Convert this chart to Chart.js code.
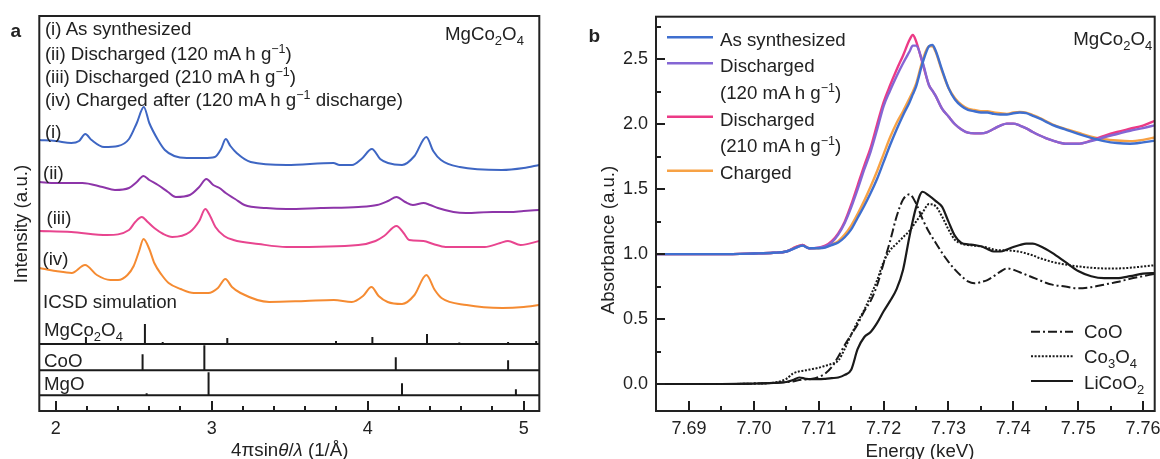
<!DOCTYPE html>
<html>
<head>
<meta charset="utf-8">
<title>MgCo2O4 XRD and Co K-edge XANES</title>
<script src="https://cdn.jsdelivr.net/npm/chart.js@4.4.1/dist/chart.umd.min.js"></script>
<style>
  html, body { margin: 0; padding: 0; background: #fff; }
  #fig { position: relative; width: 1160px; height: 459px; overflow: hidden; }
  #fig canvas { position: absolute; top: 0; }
  #ann { position: absolute; left: 0; top: 0; pointer-events: none; }
</style>
</head>
<body>
<div id="fig">
  <canvas id="xrd" width="560" height="459" style="left:0"></canvas>
  <canvas id="xanes" width="600" height="459" style="left:560px"></canvas>
  <svg id="ann" width="1160" height="459" font-family="Liberation Sans, Arial, sans-serif" font-size="18.7" fill="#222">
    <!-- panel a -->
    <text x="10.5" y="36.7" font-weight="bold" font-size="19">a</text>
    <text x="44.9" y="34.5">(i) As synthesized</text>
    <text x="44.9" y="59.5">(ii) Discharged (120 mA h g<tspan dy="-7" font-size="12.5">−1</tspan><tspan dy="7">)</tspan></text>
    <text x="44.9" y="82.9">(iii) Discharged (210 mA h g<tspan dy="-7" font-size="12.5">−1</tspan><tspan dy="7">)</tspan></text>
    <text x="44.9" y="106.2">(iv) Charged after (120 mA h g<tspan dy="-7" font-size="12.5">−1</tspan><tspan dy="7"> discharge)</tspan></text>
    <text x="445" y="39.6">MgCo<tspan dy="5" font-size="13">2</tspan><tspan dy="-5">O</tspan><tspan dy="5" font-size="13">4</tspan></text>
    <text x="44.9" y="137.9">(i)</text>
    <text x="43" y="178.5">(ii)</text>
    <text x="46.5" y="223.5">(iii)</text>
    <text x="42.5" y="265">(iv)</text>
    <text x="43" y="308">ICSD simulation</text>
    <text x="44" y="336">MgCo<tspan dy="5" font-size="13">2</tspan><tspan dy="-5">O</tspan><tspan dy="5" font-size="13">4</tspan></text>
    <text x="44" y="366.7">CoO</text>
    <text x="44" y="389.5">MgO</text>
    <text x="289.8" y="455.5" text-anchor="middle">4πsin<tspan font-style="italic">θ</tspan>/<tspan font-style="italic">λ</tspan> (1/Å)</text>
    <text transform="translate(26.9,224) rotate(-90)" text-anchor="middle">Intensity (a.u.)</text>

    <!-- panel b -->
    <text x="588.5" y="41.7" font-weight="bold" font-size="19">b</text>
    <text x="1073.3" y="45">MgCo<tspan dy="5" font-size="13">2</tspan><tspan dy="-5">O</tspan><tspan dy="5" font-size="13">4</tspan></text>
    <text x="720" y="45.7">As synthesized</text>
    <text x="720" y="72.3">Discharged</text>
    <text x="720" y="99">(120 mA h g<tspan dy="-7" font-size="12.5">−1</tspan><tspan dy="7">)</tspan></text>
    <text x="720" y="125.7">Discharged</text>
    <text x="720" y="152.4">(210 mA h g<tspan dy="-7" font-size="12.5">−1</tspan><tspan dy="7">)</tspan></text>
    <text x="720" y="179.1">Charged</text>
    <text x="1084" y="337.7">CoO</text>
    <text x="1084" y="363.3">Co<tspan dy="5" font-size="13">3</tspan><tspan dy="-5">O</tspan><tspan dy="5" font-size="13">4</tspan></text>
    <text x="1084" y="388.7">LiCoO<tspan dy="5" font-size="13">2</tspan></text>
    <text x="920" y="456.5" text-anchor="middle">Energy (keV)</text>
    <text transform="translate(614,240) rotate(-90)" text-anchor="middle">Absorbance (a.u.)</text>

    <g id="legendSamples"></g>
  </svg>
</div>

<script>
// ---------------- Panel a: X-ray diffraction patterns (offset for clarity) ----------------
const qMin = 1.895, qMax = 5.1;
const qTicks = [2, 3, 4, 5];

const qAsSynth = [1.895, 2.0, 2.10, 2.15, 2.19, 2.23, 2.31, 2.40, 2.47, 2.52, 2.565, 2.60, 2.656, 2.70, 2.76, 2.84, 2.95, 3.02, 3.06, 3.09, 3.12, 3.16, 3.25, 3.48, 3.78, 3.82, 3.90, 3.96, 4.027, 4.08, 4.13, 4.22, 4.30, 4.376, 4.42, 4.47, 4.59, 4.86, 5.0, 5.1];
const iAsSynth = [271, 270, 268, 270, 277, 271, 264, 265, 272, 288, 304, 288, 271, 261, 255, 253, 253, 254, 262, 272, 265, 258, 249, 246, 248, 246, 246, 252, 262, 252, 248, 246, 255, 274, 260, 251, 244, 241, 243, 246];

const qDis120 = [1.895, 2.0, 2.17, 2.30, 2.38, 2.47, 2.52, 2.563, 2.60, 2.656, 2.72, 2.77, 2.86, 2.92, 2.966, 3.01, 3.05, 3.09, 3.15, 3.21, 3.35, 3.48, 3.70, 3.94, 4.06, 4.13, 4.185, 4.24, 4.29, 4.358, 4.40, 4.45, 4.55, 4.63, 4.80, 4.91, 5.0, 5.1];
const iDis120 = [229, 228, 228, 224, 221, 223, 229, 235, 231, 226, 219, 214, 216, 224, 232, 226, 223, 218, 212, 206, 203, 202, 203, 204, 206, 210, 214, 209, 206, 208, 206, 203, 199, 198, 199, 199, 200, 201];

const qDis210 = [1.895, 2.10, 2.33, 2.47, 2.51, 2.552, 2.59, 2.632, 2.69, 2.747, 2.86, 2.92, 2.959, 2.99, 3.024, 3.08, 3.14, 3.30, 3.48, 3.94, 4.05, 4.105, 4.185, 4.23, 4.266, 4.358, 4.42, 4.50, 4.75, 4.85, 4.899, 4.98, 5.1];
const iDis210 = [180, 179, 176, 181, 189, 194, 189, 183, 177, 174, 179, 190, 202, 195, 184, 175, 171, 167, 164, 166, 170, 175, 185, 178, 171, 170, 167, 164, 164, 168, 170, 166, 170];

const qCharged = [1.895, 2.0, 2.103, 2.188, 2.264, 2.35, 2.40, 2.46, 2.50, 2.535, 2.563, 2.60, 2.632, 2.68, 2.724, 2.80, 2.885, 2.978, 3.04, 3.088, 3.13, 3.185, 3.369, 3.60, 3.783, 3.898, 3.97, 4.024, 4.07, 4.128, 4.22, 4.30, 4.376, 4.43, 4.473, 4.634, 4.864, 5.0, 5.1];
const iCharged = [143, 140, 138, 146, 136, 131, 131, 136, 145, 160, 172, 162, 148, 136, 128, 122, 118, 118, 123, 132, 124, 118, 109, 110, 111, 109, 115, 124, 115, 109, 107, 116, 136, 121, 113, 106, 103, 104, 106];

// ICSD simulated reflections: position and relative intensity, each on its own baseline
const baseMgCo2O4 = 67, baseCoO = 40.7, baseMgO = 15.7;
const refMgCo2O4Pos = [2.194, 2.572, 2.686, 3.10, 3.797, 4.03, 4.38, 4.587, 4.90, 5.08];
const refMgCo2O4Int = [7, 20, 2, 6, 3, 7, 10, 1.5, 2, 3];
const refCoOPos = [2.557, 2.953, 4.18, 4.90];
const refCoOInt = [16, 25, 13, 10];
const refMgOPos = [2.583, 2.98, 4.22, 4.95];
const refMgOInt = [2, 23, 12, 6];

// ---------------- Panel b: Co K-edge XANES ----------------
const eMin = 7.6849, eMax = 7.7618;
const aMin = -0.208, aMax = 2.828;
const eTicks = [7.69, 7.70, 7.71, 7.72, 7.73, 7.74, 7.75, 7.76];
const aTicks = [0.0, 0.5, 1.0, 1.5, 2.0, 2.5];

const energySample = [7.685, 7.690, 7.695, 7.700, 7.703, 7.705, 7.7065, 7.7075, 7.7085, 7.710, 7.711, 7.712, 7.713, 7.714, 7.715, 7.716, 7.717, 7.718, 7.719, 7.720, 7.721, 7.722, 7.723, 7.724, 7.7245, 7.725, 7.726, 7.727, 7.7275, 7.728, 7.729, 7.730, 7.731, 7.732, 7.733, 7.734, 7.735, 7.736, 7.737, 7.738, 7.739, 7.740, 7.741, 7.742, 7.743, 7.744, 7.745, 7.746, 7.748, 7.750, 7.752, 7.754, 7.756, 7.758, 7.760, 7.762];
const absAsSynth = [1.00, 1.00, 1.00, 1.005, 1.01, 1.02, 1.05, 1.065, 1.045, 1.045, 1.05, 1.07, 1.09, 1.13, 1.19, 1.28, 1.37, 1.47, 1.58, 1.71, 1.84, 1.96, 2.07, 2.17, 2.23, 2.29, 2.47, 2.60, 2.61, 2.57, 2.42, 2.28, 2.19, 2.14, 2.11, 2.10, 2.09, 2.09, 2.08, 2.075, 2.075, 2.085, 2.09, 2.085, 2.065, 2.045, 2.02, 1.995, 1.96, 1.925, 1.895, 1.87, 1.855, 1.85, 1.86, 1.875];
const absDis120 = [1.00, 1.00, 1.00, 1.005, 1.01, 1.02, 1.05, 1.065, 1.045, 1.05, 1.06, 1.09, 1.15, 1.24, 1.36, 1.50, 1.65, 1.79, 1.96, 2.14, 2.26, 2.37, 2.47, 2.56, 2.605, 2.605, 2.48, 2.30, 2.26, 2.22, 2.12, 2.06, 2.00, 1.96, 1.935, 1.93, 1.93, 1.94, 1.965, 1.99, 2.005, 2.005, 1.99, 1.968, 1.94, 1.915, 1.893, 1.875, 1.85, 1.85, 1.87, 1.90, 1.925, 1.95, 1.97, 1.995];
const absDis210 = [1.00, 1.00, 1.00, 1.005, 1.01, 1.02, 1.055, 1.07, 1.045, 1.05, 1.065, 1.10, 1.16, 1.25, 1.38, 1.53, 1.68, 1.82, 2.00, 2.17, 2.30, 2.42, 2.53, 2.65, 2.687, 2.64, 2.47, 2.30, 2.26, 2.22, 2.12, 2.06, 2.00, 1.96, 1.935, 1.93, 1.93, 1.94, 1.965, 1.99, 2.005, 2.005, 1.99, 1.968, 1.94, 1.915, 1.893, 1.875, 1.85, 1.85, 1.875, 1.91, 1.94, 1.965, 1.99, 2.03];
const absCharged = [1.00, 1.00, 1.00, 1.005, 1.01, 1.02, 1.055, 1.07, 1.045, 1.045, 1.055, 1.075, 1.10, 1.15, 1.22, 1.31, 1.41, 1.52, 1.64, 1.77, 1.90, 2.01, 2.10, 2.20, 2.25, 2.31, 2.49, 2.60, 2.60, 2.56, 2.41, 2.28, 2.20, 2.15, 2.12, 2.11, 2.10, 2.10, 2.09, 2.085, 2.08, 2.09, 2.095, 2.09, 2.07, 2.05, 2.025, 2.00, 1.965, 1.935, 1.905, 1.885, 1.875, 1.87, 1.88, 1.90];

const energyRef = [7.685, 7.690, 7.695, 7.700, 7.703, 7.705, 7.706, 7.707, 7.708, 7.709, 7.710, 7.711, 7.712, 7.713, 7.714, 7.715, 7.716, 7.717, 7.718, 7.719, 7.720, 7.721, 7.722, 7.723, 7.724, 7.725, 7.726, 7.727, 7.728, 7.729, 7.730, 7.731, 7.732, 7.733, 7.734, 7.735, 7.736, 7.737, 7.738, 7.739, 7.740, 7.741, 7.742, 7.743, 7.744, 7.745, 7.746, 7.748, 7.750, 7.752, 7.754, 7.756, 7.758, 7.760, 7.762];
const absCoO = [0, 0, 0, 0.003, 0.008, 0.015, 0.02, 0.03, 0.035, 0.04, 0.055, 0.08, 0.13, 0.21, 0.30, 0.38, 0.46, 0.56, 0.64, 0.76, 0.93, 1.10, 1.29, 1.42, 1.46, 1.39, 1.27, 1.17, 1.09, 1.01, 0.94, 0.88, 0.83, 0.79, 0.775, 0.785, 0.80, 0.83, 0.865, 0.89, 0.88, 0.86, 0.84, 0.82, 0.80, 0.78, 0.765, 0.75, 0.737, 0.745, 0.765, 0.785, 0.81, 0.83, 0.85];
const absCo3O4 = [0, 0, 0, 0.003, 0.01, 0.04, 0.08, 0.097, 0.105, 0.115, 0.125, 0.14, 0.155, 0.18, 0.27, 0.38, 0.48, 0.57, 0.68, 0.80, 0.94, 1.03, 1.08, 1.13, 1.18, 1.25, 1.32, 1.385, 1.37, 1.29, 1.19, 1.11, 1.08, 1.07, 1.065, 1.06, 1.05, 1.035, 1.03, 1.03, 1.025, 1.018, 1.005, 0.99, 0.97, 0.955, 0.94, 0.92, 0.905, 0.895, 0.89, 0.89, 0.895, 0.905, 0.915];
const absLiCoO2 = [0, 0, 0, 0.003, 0.008, 0.015, 0.03, 0.05, 0.04, 0.037, 0.037, 0.04, 0.045, 0.05, 0.07, 0.11, 0.27, 0.36, 0.40, 0.47, 0.56, 0.64, 0.73, 0.88, 1.14, 1.36, 1.48, 1.45, 1.41, 1.365, 1.25, 1.14, 1.085, 1.075, 1.07, 1.06, 1.04, 1.02, 1.02, 1.035, 1.055, 1.07, 1.08, 1.08, 1.065, 1.04, 1.01, 0.94, 0.87, 0.83, 0.815, 0.815, 0.83, 0.85, 0.855];

// ---------------- helpers ----------------
const FONT = "'Liberation Sans', Arial, sans-serif";
const INK = '#222';
Chart.defaults.font.family = FONT;

const pairs = (xs, ys) => xs.map((x, i) => ({ x, y: ys[i] }));

// one continuous trace along the baseline with a vertical spike per reflection
function stickTrace(pos, inten, base) {
  const pts = [{ x: qMin, y: base }];
  pos.forEach((p, i) => {
    pts.push({ x: p, y: base }, { x: p, y: base + inten[i] }, { x: p, y: base });
  });
  pts.push({ x: qMax, y: base });
  return pts;
}

// major ticks from a list, minor ticks every `minorStep` in between
function tickList(major, minorStep, lo, hi, majLen, minLen) {
  const out = major.map(v => [v, majLen]);
  if (minorStep) {
    const start = Math.ceil((lo - 1e-9) / minorStep);
    for (let k = start; k * minorStep <= hi + 1e-9; k++) {
      const v = +(k * minorStep).toFixed(6);
      if (major.some(m => Math.abs(m - v) < 1e-6)) continue;
      if (v <= lo + minorStep * 0.1 || v >= hi - minorStep * 0.1) continue;
      out.push([v, minLen]);
    }
  }
  return out;
}

// boxed frame with inward major/minor tick marks (one plugin instance per chart)
function frameWithTicks(xTickList, yTickList) {
  return {
    id: 'frameWithTicks',
    afterDraw(chart) {
      const ctx = chart.ctx;
      const a = chart.chartArea;
      const sx = chart.scales.x, sy = chart.scales.y;
      ctx.save();
      ctx.fillStyle = '#1e1e1e';
      xTickList.forEach(([v, len]) => {
        const px = sx.getPixelForValue(v);
        ctx.fillRect(Math.round(px) - 1, a.bottom - len, 2, len);
      });
      yTickList.forEach(([v, len]) => {
        const py = sy.getPixelForValue(v);
        ctx.fillRect(a.left, Math.round(py) - 1, len, 2);
      });
      ctx.strokeStyle = '#222';
      ctx.lineWidth = 2;
      ctx.setLineDash([]);
      ctx.strokeRect(a.left, a.top, a.right - a.left, a.bottom - a.top);
      ctx.restore();
    }
  };
}

const lineDs = (label, data, color, width, extra) => Object.assign({
  label, data, borderColor: color, backgroundColor: color, borderWidth: width,
  pointRadius: 0, fill: false, cubicInterpolationMode: 'monotone'
}, extra || {});

const hiddenGrid = { display: false, drawTicks: false };

// ---------------- Chart a ----------------
const chartA = new Chart(document.getElementById('xrd'), {
  type: 'line',
  data: {
    datasets: [
      lineDs('MgCo2O4 (ICSD)', stickTrace(refMgCo2O4Pos, refMgCo2O4Int, baseMgCo2O4), '#1a1a1a', 2, { tension: 0, cubicInterpolationMode: 'default' }),
      lineDs('CoO (ICSD)', stickTrace(refCoOPos, refCoOInt, baseCoO), '#1a1a1a', 2, { tension: 0, cubicInterpolationMode: 'default' }),
      lineDs('MgO (ICSD)', stickTrace(refMgOPos, refMgOInt, baseMgO), '#1a1a1a', 2, { tension: 0, cubicInterpolationMode: 'default' }),
      lineDs('(iv) Charged', pairs(qCharged, iCharged), '#f58b32', 2),
      lineDs('(iii) Discharged 210', pairs(qDis210, iDis210), '#e8458f', 2),
      lineDs('(ii) Discharged 120', pairs(qDis120, iDis120), '#8d35a9', 2),
      lineDs('(i) As synthesized', pairs(qAsSynth, iAsSynth), '#3e66c3', 2)
    ]
  },
  options: {
    responsive: false, animation: false, events: [],
    layout: { padding: { left: 0, right: 20.7, top: 16, bottom: 0 } },
    plugins: { legend: { display: false }, tooltip: { enabled: false } },
    scales: {
      x: {
        type: 'linear', min: qMin, max: qMax,
        grid: hiddenGrid, border: { display: false },
        ticks: { color: INK, font: { size: 18 }, padding: 7, maxRotation: 0, autoSkip: false, callback: v => String(v) },
        afterBuildTicks: s => { s.ticks = qTicks.map(v => ({ value: v })); },
        afterFit: s => { s.height = 48; s.paddingLeft = 0; s.paddingRight = 0; }
      },
      y: {
        type: 'linear', min: 0, max: 395,
        grid: hiddenGrid, border: { display: false },
        ticks: { display: false },
        afterFit: s => { s.width = 39.3; s.paddingTop = 0; s.paddingBottom = 0; }
      }
    }
  },
  plugins: [frameWithTicks(tickList(qTicks, 0.2, qMin, qMax, 10, 5), [])]
});

// ---------------- Chart b ----------------
const chartB = new Chart(document.getElementById('xanes'), {
  type: 'line',
  data: {
    datasets: [
      lineDs('CoO', pairs(energyRef, absCoO), '#1a1a1a', 2, { borderDash: [9, 3, 2, 3] }),
      lineDs('Co3O4', pairs(energyRef, absCo3O4), '#1a1a1a', 2, { borderDash: [2, 1.6] }),
      lineDs('LiCoO2', pairs(energyRef, absLiCoO2), '#1a1a1a', 2.2),
      lineDs('As synthesized', pairs(energySample, absAsSynth), '#3f6fcf', 2.4),
      lineDs('Discharged (120 mA h g-1)', pairs(energySample, absDis120), '#8466d4', 2.4),
      lineDs('Discharged (210 mA h g-1)', pairs(energySample, absDis210), '#ec3a86', 2.4),
      lineDs('Charged', pairs(energySample, absCharged), '#f7a245', 2.4)
    ]
  },
  options: {
    responsive: false, animation: false, events: [],
    layout: { padding: { left: 0, right: 5.3, top: 16.7, bottom: 0 } },
    plugins: { legend: { display: false }, tooltip: { enabled: false } },
    scales: {
      x: {
        type: 'linear', min: eMin, max: eMax,
        grid: hiddenGrid, border: { display: false },
        ticks: { color: INK, font: { size: 18 }, padding: 7, maxRotation: 0, autoSkip: false, callback: v => Number(v).toFixed(2) },
        afterBuildTicks: s => { s.ticks = eTicks.map(v => ({ value: v })); },
        afterFit: s => { s.height = 48; s.paddingLeft = 0; s.paddingRight = 0; }
      },
      y: {
        type: 'linear', min: aMin, max: aMax,
        grid: hiddenGrid, border: { display: false },
        ticks: { color: INK, font: { size: 18 }, padding: 8, autoSkip: false, callback: v => Number(v).toFixed(1) },
        afterBuildTicks: s => { s.ticks = aTicks.map(v => ({ value: v })); },
        afterFit: s => { s.width = 96; s.paddingTop = 0; s.paddingBottom = 0; }
      }
    }
  },
  plugins: [frameWithTicks(tickList(eTicks, 0.005, eMin, eMax, 10, 5), tickList(aTicks, 0.25, aMin, aMax, 9, 5))]
});

// ---------------- legend line samples, styled from the datasets ----------------
const legendRows = [
  { label: 'As synthesized', x1: 667, x2: 713, y: 37.3 },
  { label: 'Discharged (120 mA h g-1)', x1: 667, x2: 713, y: 63.3 },
  { label: 'Discharged (210 mA h g-1)', x1: 667, x2: 713, y: 116.7 },
  { label: 'Charged', x1: 667, x2: 713, y: 170.7 },
  { label: 'CoO', x1: 1031, x2: 1073, y: 331.7 },
  { label: 'Co3O4', x1: 1031, x2: 1073, y: 356.3 },
  { label: 'LiCoO2', x1: 1031, x2: 1073, y: 381 }
];
const NS = 'http://www.w3.org/2000/svg';
const g = document.getElementById('legendSamples');
legendRows.forEach(r => {
  const ds = chartB.data.datasets.find(d => d.label === r.label);
  const ln = document.createElementNS(NS, 'line');
  ln.setAttribute('x1', r.x1); ln.setAttribute('x2', r.x2);
  ln.setAttribute('y1', r.y); ln.setAttribute('y2', r.y);
  ln.setAttribute('stroke', ds.borderColor);
  ln.setAttribute('stroke-width', ds.borderWidth);
  if (ds.borderDash) ln.setAttribute('stroke-dasharray', ds.borderDash.join(' '));
  g.appendChild(ln);
});
</script>
</body>
</html>
